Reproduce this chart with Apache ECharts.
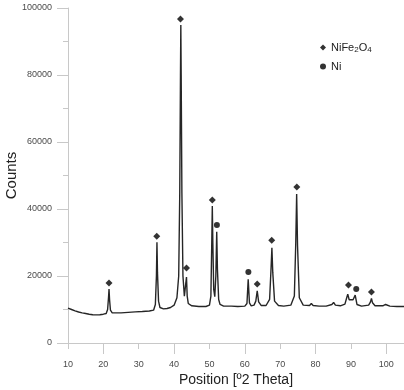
<!DOCTYPE html>
<html>
<head>
<meta charset="utf-8">
<script src="https://cdn.jsdelivr.net/npm/echarts@6/dist/echarts.min.js"></script>
<style>
html,body{margin:0;padding:0;background:#fff;}
#chart{width:404px;height:390px;}
</style>
</head>
<body>
<div id="chart"></div>
<script>
// Diffraction pattern
var twoTheta = [10.0,11,12,13,14,15,16,17,18,19,20,20.8,21.2,21.45,21.6,21.75,22.0,22.5,23,25,27,29,31,33,34.2,34.7,35.0,35.15,35.3,35.6,36,37,38,39,40,40.8,41.3,41.6,41.8,41.9,42.0,42.2,42.5,42.9,43.2,43.5,43.7,44,45,47,49,50,50.4,50.65,50.8,50.95,51.2,51.5,51.8,52.05,52.25,52.6,53,54,55.4,55.8,56.2,58,60,60.6,60.95,61.3,61.8,62.6,63.1,63.5,63.9,64.6,66,67.0,67.4,67.65,67.9,68.4,69.5,71,73,74.0,74.4,74.65,74.9,75.4,76.5,78.3,78.8,79.3,81,83,84.6,85.1,85.6,87,88.3,88.8,89.1,89.5,90.0,90.6,91.2,91.7,93,95.0,95.5,95.8,96.1,96.8,99,99.8,100.2,101,103,105];
var counts   = [10400,10000,9600,9250,9000,8800,8600,8450,8400,8450,8600,8800,10000,13500,16100,13000,9800,9000,8900,9000,9150,9300,9400,9550,9800,11500,20000,30100,21000,12500,10600,10200,10300,10600,11300,13500,20000,45000,80000,94900,80000,45000,20000,14000,14500,19700,14000,11800,11100,10900,10900,11300,14000,30000,40900,30000,16000,13800,20000,33200,22000,13000,11500,11000,11000,11500,11000,10900,11000,11800,19000,12000,11100,11300,12500,15600,12300,11200,11200,13000,22000,28400,21000,12500,11200,11000,11300,14000,30000,44500,29000,13500,11300,11200,11800,11200,11000,11000,11500,12100,11300,11100,11600,13500,14600,12900,12700,12900,14300,11500,11000,11300,12200,13300,12000,11100,11100,11500,11600,11000,10900,10900];

// Reflection markers
var spinelPos = [21.6,35.1,41.8,43.5,50.8,63.5,67.6,74.7,89.3,95.8];
var spinelY   = [17900,31900,96700,22400,42700,17600,30700,46600,17300,15200];
var niPos     = [52.1,61.0,91.5];
var niY       = [35200,21200,16100];

var xTicks = [10,20,30,40,50,60,70,80,90,100];
var xLongTicks = [20,40,60,80,100];

function pairs(a,b){var r=[];for(var i=0;i<a.length;i++){r.push([a[i],b[i]]);}return r;}

var chart = echarts.init(document.getElementById('chart'), null, {renderer:'canvas'});
var font = 'Liberation Sans, Arial, sans-serif';
var axisGray = '#c8c8c8';
chart.setOption({
  animation:false,
  backgroundColor:'#fff',
  textStyle:{fontFamily:font},
  grid:{left:68,right:0,top:8,bottom:47,containLabel:false,outerBoundsMode:'none'},
  legend:{
    orient:'vertical', left:315, top:37, itemGap:7, itemWidth:6, itemHeight:6,
    data:[{name:'NiFe2O4',icon:'diamond'},{name:'Ni',icon:'circle'}],
    textStyle:{fontFamily:font,fontSize:11,color:'#222',
      rich:{a:{fontSize:11,color:'#222',fontFamily:font},s:{fontSize:8,color:'#222',fontFamily:font,padding:[5,0,0,0]}}},
    formatter:function(n){return n==='NiFe2O4'?'{a|NiFe}{s|2}{a|O}{s|4}':'{a|'+n+'}';}
  },
  xAxis:[{
    type:'value', min:10, max:105, interval:10,
    axisLine:{show:true,onZero:false,lineStyle:{color:axisGray,width:1}},
    axisTick:{show:true,length:6,lineStyle:{color:axisGray},customValues:xTicks},
    axisLabel:{color:'#4a4a4a',fontSize:9,margin:17,fontFamily:font,customValues:xTicks},
    splitLine:{show:false},
    name:'Position [º2 Theta]', nameLocation:'middle', nameGap:30, nameMoveOverlap:false,
    nameTextStyle:{fontSize:14,color:'#222',fontFamily:font}
  },{
    type:'value', min:10, max:105, position:'bottom',
    axisLine:{show:false},
    axisTick:{show:true,length:11,lineStyle:{color:axisGray},customValues:xLongTicks},
    axisLabel:{show:false},
    splitLine:{show:false}
  }],
  yAxis:{
    type:'value', min:0, max:100000, interval:20000,
    axisLine:{show:true,lineStyle:{color:axisGray,width:1}},
    axisTick:{show:true,length:11,lineStyle:{color:axisGray}},
    minorTick:{show:true,splitNumber:2,length:5,lineStyle:{color:axisGray}},
    axisLabel:{color:'#4a4a4a',fontSize:9,margin:16,fontFamily:font,
      formatter:function(v){return String(v);}},
    splitLine:{show:false},
    name:'Counts', nameLocation:'middle', nameGap:49, nameMoveOverlap:false,
    nameTextStyle:{fontSize:15,color:'#222',fontFamily:font}
  },
  series:[{
    type:'line', name:'pattern', data:pairs(twoTheta,counts), showSymbol:false, symbol:'none',
    lineStyle:{color:'#262626',width:1.4}, xAxisIndex:0, z:2
  },{
    type:'scatter', name:'NiFe2O4', data:pairs(spinelPos,spinelY), symbol:'diamond', symbolSize:7,
    itemStyle:{color:'#000'}, xAxisIndex:0, z:3
  },{
    type:'scatter', name:'Ni', data:pairs(niPos,niY), symbol:'circle', symbolSize:6,
    itemStyle:{color:'#000'}, xAxisIndex:0, z:3
  }]
});
</script>
</body>
</html>
